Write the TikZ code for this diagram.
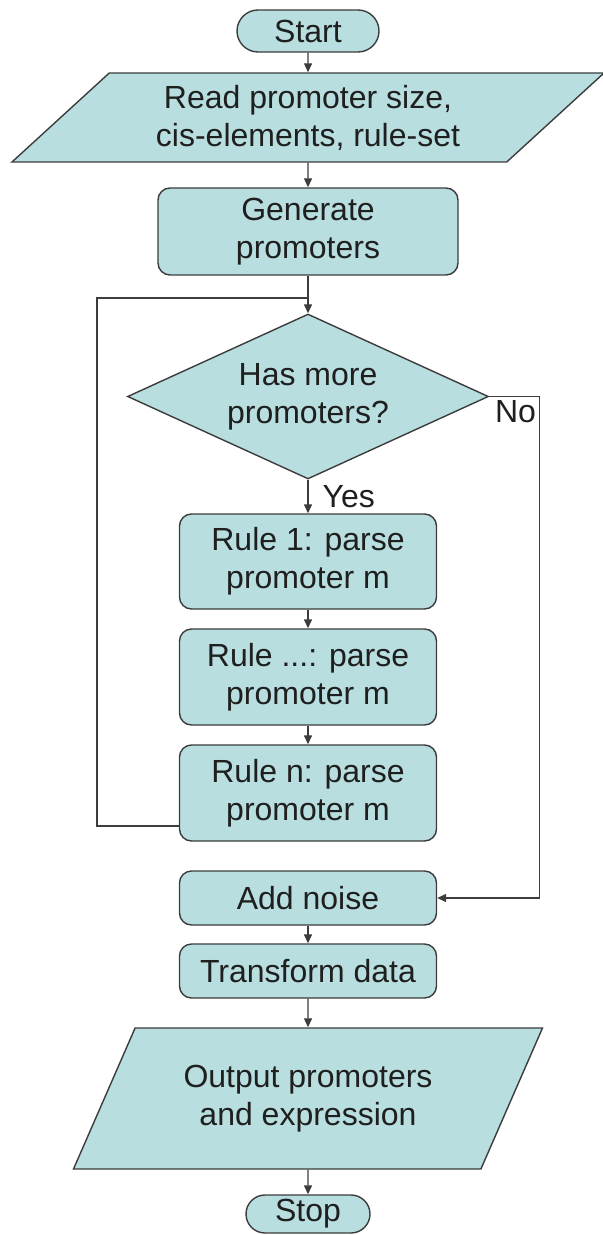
\documentclass[tikz,border=0pt]{standalone}
\usepackage{fontspec}
\setmainfont{Liberation Sans}
\usetikzlibrary{shapes.geometric,shapes.misc,positioning,arrows.meta}
\definecolor{boxfill}{RGB}{184,222,224}
\definecolor{boxline}{RGB}{60,60,60}

\begin{document}
\begin{tikzpicture}[>={Triangle[length=4.5pt,width=4pt]},on grid,
    every node/.style={font=\fontsize{16}{19}\selectfont,text=black!88,align=center},
    base/.style={draw=boxline,fill=boxfill,line width=0.7pt,inner sep=2pt},
    term/.style={base,rounded rectangle,minimum width=66pt,minimum height=20pt},
    proc/.style={base,rectangle,rounded corners=6pt,minimum width=128.5pt},
    io/.style={base,trapezium,trapezium stretches body},
    decide/.style={base,diamond,aspect=2.19,minimum width=180.5pt,minimum height=82.5pt,inner sep=0pt},
    line/.style={draw=boxline,line width=0.7pt}]
   \useasboundingbox (0,0) rectangle (301.5pt,-617.5pt);
   \node[term,minimum width=75pt,minimum height=21pt] (start) at (154pt,-15.5pt) {Start};
   \node[io,trapezium left angle=37,trapezium right angle=143,
         minimum width=296pt,minimum height=44.5pt] (read) [below=43.25pt of start]
         {Read promoter size,\\cis-elements, rule-set};
   \node[proc,minimum width=150pt,minimum height=43.5pt] (gen) [below=57pt of read] {Generate\\promoters};
   \node[decide] (more) [below=82.5pt of gen] {Has more\\promoters?};
   \node[proc,minimum height=47.5pt] (rule1) [below=82.5pt of more] {Rule 1: parse\\promoter m};
   \node[proc,minimum height=48pt] (rule2) [below=57.75pt of rule1] {Rule ...: parse\\promoter m};
   \node[proc,minimum height=48pt] (rulen) [below=58pt of rule2] {Rule n: parse\\promoter m};
   \node[proc,minimum height=27pt] (noise) [below=52.5pt of rulen] {Add noise};
   \node[proc,minimum height=27pt] (trans) [below=36.5pt of noise] {Transform data};
   \node[io,trapezium left angle=50.6,trapezium right angle=129.4,
         minimum width=234.5pt,minimum height=70.5pt] (out) [below=63.75pt of trans]
         {Output promoters\\and expression};
   \node[term,minimum height=19pt] (stop) [below=57.75pt of out] {Stop};
   \coordinate (join) at (154pt,-149pt);

   \draw[line,->] (start) -- (read);
   \draw[line,->] (read) -- (gen);
   \draw[line,->] (gen) -- (more);
   \draw[line,->] (more) -- node[anchor=west,inner sep=2pt,xshift=5pt] {Yes} (rule1);
   \draw[line,->] (rule1) -- (rule2);
   \draw[line,->] (rule2) -- (rulen);
   \draw[line] ([yshift=-16.5pt]rulen.west) -| (48.5pt,-149pt) -- (join);
   \draw[line,->] (more.east) -- ++(25.25pt,0) node[anchor=north east,inner sep=1.5pt] {No} |- (noise.east);
   \draw[line,->] (noise) -- (trans);
   \draw[line,->] (trans) -- (out);
   \draw[line,->] (out) -- (stop);
\end{tikzpicture}
\end{document}
